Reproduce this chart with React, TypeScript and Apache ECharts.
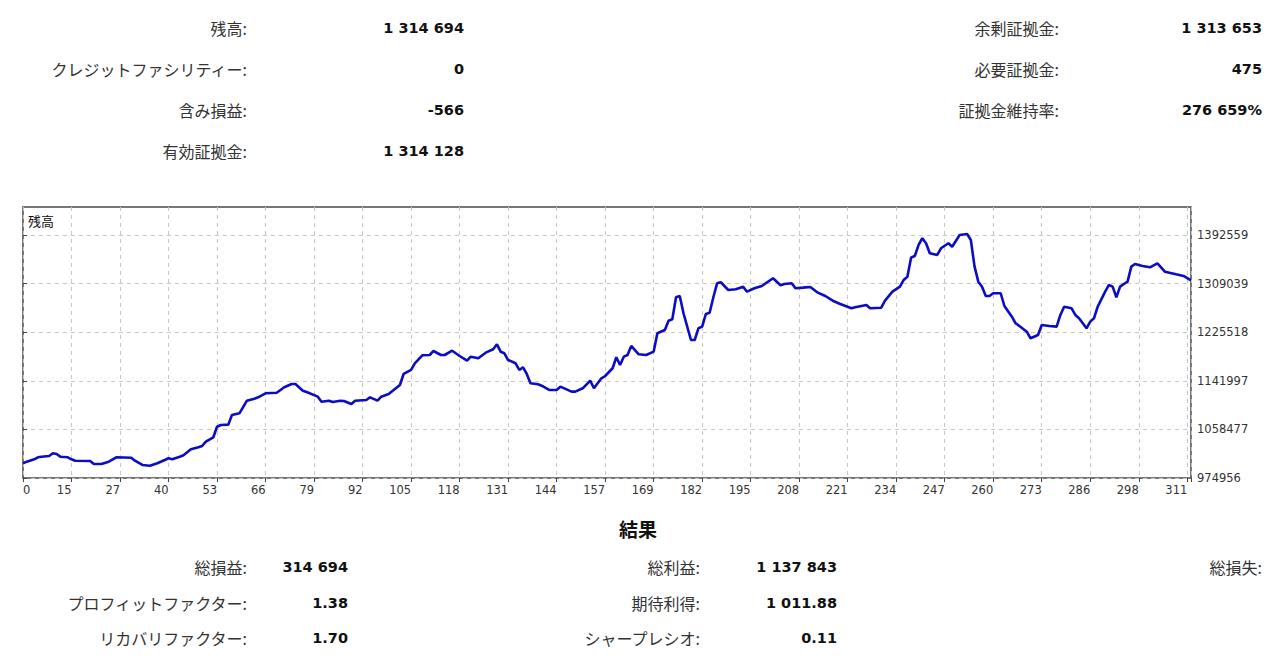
import React, { useEffect, useRef } from 'react';
import * as echarts from 'echarts';

// Trade index (x) and balance (y)
const tradeIdx = [
  0, 1, 3, 4, 5, 7, 8, 9, 10, 12, 13, 14, 18, 19, 21, 23, 25, 29, 30, 32, 34, 36, 38, 39, 40, 42, 43, 45, 47, 48,
  49, 51, 52, 53, 55, 56, 58, 60, 62, 63, 65, 68, 70, 72, 73, 75, 76, 79, 80, 82, 83, 85, 86, 88, 89, 92, 93, 95, 96, 98,
  101, 102, 104, 105, 107, 109, 110, 112, 113, 115, 117, 119, 120, 122, 124, 126, 127, 128, 129, 130, 132, 133, 134, 135, 136, 138, 139, 141, 143, 144,
  147, 148, 150, 152, 153, 155, 156, 158, 159, 160, 161, 162, 163, 165, 167, 169, 170, 172, 173, 174, 175, 176, 177, 179, 180, 181, 182, 183, 184, 185,
  186, 187, 189, 191, 193, 194, 196, 198, 201, 203, 204, 206, 207, 209, 211, 213, 215, 217, 219, 222, 223, 226, 227, 230, 231, 233, 235, 236, 237, 238,
  239, 240, 241, 242, 243, 245, 246, 248, 249, 251, 253, 254, 255, 256, 257, 258, 259, 260, 262, 263, 265, 266, 267, 269, 270, 272, 273, 275, 277, 278,
  279, 281, 282, 283, 285, 286, 287, 288, 290, 291, 292, 293, 294, 295, 296, 297, 298, 300, 302, 304, 306, 309, 311, 313,
];
const balance = [
  1000000, 1003000, 1007100, 1010500, 1011600, 1012800, 1017400, 1016200, 1011600, 1010500, 1007100, 1004700, 1004200, 999000, 999000, 1003000, 1010500, 1009800, 1004700, 997300, 996100, 1000200, 1005900, 1008800, 1007100, 1011600, 1014000, 1024300, 1027700, 1029900,
  1037300, 1044900, 1063100, 1066000, 1066600, 1083200, 1086100, 1107800, 1111200, 1113600, 1120500, 1121500, 1130800, 1136500, 1136500, 1125000, 1122700, 1114700, 1106100, 1107800, 1105600, 1107800, 1107300, 1102100, 1107800, 1109000, 1113600, 1107800, 1114700, 1119300,
  1134800, 1153700, 1160600, 1172100, 1185800, 1186300, 1193200, 1186300, 1186300, 1193700, 1184600, 1176500, 1183400, 1180700, 1190300, 1196100, 1204700, 1192000, 1189300, 1177700, 1172100, 1160600, 1165200, 1153700, 1137700, 1136000, 1133600, 1126200, 1126200, 1131900,
  1123300, 1123300, 1129100, 1142200, 1129100, 1146300, 1150200, 1163500, 1182400, 1169100, 1183400, 1186300, 1201800, 1187500, 1186300, 1192000, 1223600, 1229300, 1245300, 1247700, 1285500, 1287700, 1258000, 1212100, 1212100, 1232200, 1235000, 1256800, 1259000, 1285500,
  1309500, 1311300, 1298000, 1299200, 1303700, 1295100, 1301000, 1304900, 1318100, 1306100, 1308300, 1309500, 1301000, 1302000, 1303200, 1293400, 1287700, 1279600, 1274000, 1266600, 1268300, 1272300, 1266600, 1267600, 1279600, 1295100, 1303700, 1315200, 1320900, 1353900,
  1356500, 1375400, 1386900, 1378300, 1361100, 1358200, 1369700, 1378300, 1372400, 1392600, 1394300, 1384000, 1338100, 1312300, 1303700, 1287700, 1287700, 1292400, 1292400, 1270500, 1252200, 1240800, 1236200, 1226400, 1215000, 1220700, 1237900, 1236200, 1235000, 1255100,
  1269300, 1266600, 1255100, 1249400, 1232200, 1243600, 1249400, 1269300, 1295100, 1306600, 1303700, 1285500, 1303700, 1308300, 1312300, 1338100, 1342700, 1339300, 1337000, 1343900, 1329500, 1325000, 1322100, 1314700,
];

const xTickLabels = ['0', '15', '27', '40', '53', '66', '79', '92', '105', '118', '131', '144', '157', '169', '182', '195', '208', '221', '234', '247', '260', '273', '286', '298', '311'];
const yTickValues = [974956, 1058477, 1141997, 1225518, 1309039, 1392559];
const yMin = 974956;
const yMax = 1440600;
const xMax = 313;
const xStep = 13;

const chartTitle = '残高';

const topLeftLabels = ['残高:', 'クレジットファシリティー:', '含み損益:', '有効証拠金:'];
const topLeftValues = ['1 314 694', '0', '-566', '1 314 128'];
const topRightLabels = ['余剰証拠金:', '必要証拠金:', '証拠金維持率:'];
const topRightValues = ['1 313 653', '475', '276 659%'];

const resultTitle = '結果';
const resLeftLabels = ['総損益:', 'プロフィットファクター:', 'リカバリファクター:'];
const resLeftValues = ['314 694', '1.38', '1.70'];
const resMidLabels = ['総利益:', '期待利得:', 'シャープレシオ:'];
const resMidValues = ['1 137 843', '1 011.88', '0.11'];
const resRightLabels = ['総損失:'];

const LABEL_FONT = '16px "Noto Sans CJK JP", "Noto Sans", sans-serif';
const VALUE_FONT = 'bold 14.5px "DejaVu Sans", sans-serif';

function txt(text: string, x: number, y: number, font: string, fill: string, align: string) {
  return {
    type: 'text',
    x,
    y,
    silent: true,
    style: {
      text,
      font,
      fill,
      textAlign: align,
      align,
      textVerticalAlign: 'middle',
      verticalAlign: 'middle',
    },
  };
}

export default function App() {
  const ref = useRef<HTMLDivElement>(null);

  useEffect(() => {
    if (!ref.current) return;
    const chart = echarts.init(ref.current, null, { renderer: 'svg' });

    const data = tradeIdx.map((x, i) => [x, balance[i]]);

    const graphics: any[] = [];
    const topRows = [28, 69, 110, 151];
    topLeftLabels.forEach((t, i) => graphics.push(txt(t, 247, topRows[i], LABEL_FONT, '#333', 'right')));
    topLeftValues.forEach((t, i) => graphics.push(txt(t, 464, topRows[i], VALUE_FONT, '#111', 'right')));
    topRightLabels.forEach((t, i) => graphics.push(txt(t, 1059, topRows[i], LABEL_FONT, '#333', 'right')));
    topRightValues.forEach((t, i) => graphics.push(txt(t, 1262, topRows[i], VALUE_FONT, '#111', 'right')));

    graphics.push(txt(resultTitle, 638, 528, 'bold 19px "Noto Sans CJK JP", sans-serif', '#111', 'center'));
    const resRows = [567, 603, 638];
    resLeftLabels.forEach((t, i) => graphics.push(txt(t, 247, resRows[i], LABEL_FONT, '#333', 'right')));
    resLeftValues.forEach((t, i) => graphics.push(txt(t, 348, resRows[i], VALUE_FONT, '#111', 'right')));
    resMidLabels.forEach((t, i) => graphics.push(txt(t, 700, resRows[i], LABEL_FONT, '#333', 'right')));
    resMidValues.forEach((t, i) => graphics.push(txt(t, 837, resRows[i], VALUE_FONT, '#111', 'right')));
    resRightLabels.forEach((t, i) => graphics.push(txt(t, 1262, resRows[i], LABEL_FONT, '#333', 'right')));

    graphics.push(txt(chartTitle, 28, 220, '13px "Noto Sans CJK JP", sans-serif', '#111', 'left'));

    const option: any = {
      animation: false,
      backgroundColor: '#fff',
      grid: {
        left: 23,
        right: 89,
        top: 207,
        bottom: 192,
        show: true,
        borderColor: '#4a4a4a',
        borderWidth: 1.5,
        backgroundColor: '#fff',
        containLabel: false,
        outerBoundsMode: 'none',
      },
      xAxis: {
        type: 'value',
        min: 0,
        max: xMax,
        interval: xStep,
        axisLine: { show: false },
        axisTick: { show: true, length: 4, lineStyle: { color: '#444', width: 1 } },
        splitLine: { show: true, lineStyle: { color: '#c8c8c8', type: [4, 4], width: 1 } },
        axisLabel: {
          color: '#333',
          fontFamily: '"DejaVu Sans", sans-serif',
          fontSize: 11.5,
          margin: 6,
          align: 'right',
          alignMinLabel: 'left',
          showMaxLabel: true,
          formatter: (v: number) => {
            const k = Math.round(v / xStep);
            return Math.abs(v - k * xStep) < 1e-6 && xTickLabels[k] !== undefined ? xTickLabels[k] : '';
          },
        },
      },
      yAxis: {
        type: 'value',
        position: 'right',
        min: yMin,
        max: yMax,
        axisLine: { show: false },
        axisTick: { show: true, length: 4, customValues: yTickValues, lineStyle: { color: '#444', width: 1 } },
        splitLine: { show: true, lineStyle: { color: '#c8c8c8', type: [4, 4], width: 1 } },
        axisLabel: {
          customValues: yTickValues,
          color: '#333',
          fontFamily: '"DejaVu Sans", sans-serif',
          fontSize: 11.5,
          margin: 6,
          formatter: (v: number) => String(Math.round(v)),
        },
      },
      series: [
        {
          type: 'line',
          data,
          showSymbol: false,
          symbol: 'none',
          clip: true,
          lineStyle: { color: '#0c0cc4', width: 2.6 },
          itemStyle: { color: '#0c0cc4' },
        },
      ],
      graphic: graphics,
    };

    chart.setOption(option);
    return () => chart.dispose();
  }, []);

  return (
    <div
      ref={ref}
      style={{ position: 'absolute', left: 0, top: 0, width: 1280, height: 670, background: '#fff' }}
    />
  );
}
